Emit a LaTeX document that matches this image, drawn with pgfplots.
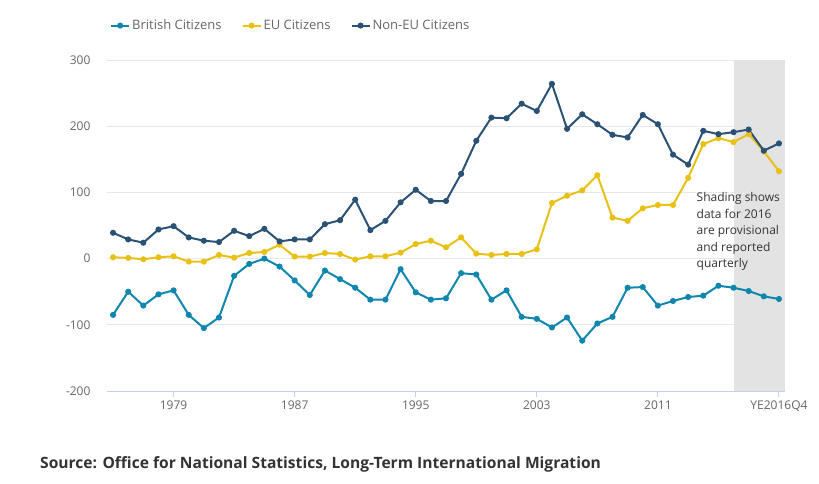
\documentclass[border=0pt]{standalone}
\usepackage{fontspec}
\setmainfont{Open Sans}
\usepackage{pgfplots}
\pgfplotsset{compat=1.18}
\definecolor{brit}{HTML}{0F86AE}
\definecolor{eu}{HTML}{E9C114}
\definecolor{noneu}{HTML}{2A5275}
\definecolor{txtgrey}{HTML}{666666}
\definecolor{xline}{HTML}{C5D2E6}
\definecolor{shadegrey}{HTML}{E3E3E3}
\begin{document}
\begin{tikzpicture}
\path[use as bounding box] (0pt,0pt) rectangle (819pt,483pt);
\begin{axis}[
  at={(107pt,92pt)}, anchor=south west,
  scale only axis, width=678pt, height=331pt,
  xmin=-0.4, xmax=44.4, ymin=-200, ymax=300,
  axis x line*=bottom, axis y line*=left,
  x axis line style={draw=xline, line width=1pt},
  y axis line style={draw=none},
  xtick={4,12,20,28,36,44},
  xticklabels={1979,1987,1995,2003,2011,YE2016Q4},
  ytick={-200,-100,0,100,200,300},
  yticklabels={-200,-100,0,100,200,300},
  tick align=outside, major tick length=6pt,
  xtick style={draw=xline, line width=1pt},
  ytick style={draw=none},
  yticklabel style={xshift=-7pt},
  ticklabel style={font=\fontsize{12}{14}\selectfont, text=txtgrey},
  ymajorgrids, grid style={draw=gray!18, line width=1pt},
  legend style={at={(0,1.104)}, anchor=west, draw=none, fill=none,
    font=\fontsize{13}{15}\selectfont, text=txtgrey,
    /tikz/every even column/.append style={column sep=18pt}},
  legend columns=3,
  legend image code/.code={\draw[mark repeat=2,mark phase=2,#1] plot coordinates {(0pt,0pt) (9pt,0pt) (18pt,0pt)};},
  every axis plot/.append style={line width=2pt, mark=*, mark size=2pt},
]
\fill[shadegrey] (axis cs:41,-200) rectangle (axis cs:44.4,300);
\addplot[brit, mark options={fill=brit, draw=brit}] coordinates {
(0,-85) (1,-50) (2,-71) (3,-54) (4,-48) (5,-85) (6,-105) (7,-89) (8,-26) (9,-8)
(10,0) (11,-12) (12,-33) (13,-55) (14,-18) (15,-31) (16,-44) (17,-62) (18,-62) (19,-16)
(20,-51) (21,-62) (22,-60) (23,-22) (24,-24) (25,-62) (26,-48) (27,-88) (28,-91) (29,-104)
(30,-89) (31,-124) (32,-98) (33,-88) (34,-44) (35,-43) (36,-71) (37,-64) (38,-58) (39,-56)
(40,-41) (41,-44) (42,-49) (43,-57) (44,-61)};
\addlegendentry{British Citizens}
\addplot[eu, mark options={fill=eu, draw=eu}] coordinates {
(0,2) (1,1) (2,-1) (3,2) (4,3.5) (5,-4.5) (6,-4.5) (7,5.5) (8,1.5) (9,8.5)
(10,10) (11,21) (12,3) (13,3) (14,8.5) (15,7) (16,-1.5) (17,3.5) (18,3.5) (19,9)
(20,22) (21,27) (22,17) (23,32) (24,7.5) (25,5.5) (26,7) (27,7) (28,14) (29,84)
(30,95) (31,103) (32,126) (33,62) (34,57) (35,76) (36,81) (37,81) (38,122) (39,173)
(40,182) (41,176) (42,188) (43,162) (44,132)};
\addlegendentry{EU Citizens}
\addplot[noneu, mark options={fill=noneu, draw=noneu}] coordinates {
(0,39) (1,29) (2,24) (3,44) (4,49) (5,32) (6,27) (7,25) (8,42) (9,34)
(10,45) (11,26) (12,29) (13,29) (14,52) (15,58) (16,89) (17,43) (18,57) (19,85)
(20,104) (21,87) (22,87) (23,128) (24,178) (25,213) (26,212) (27,234) (28,223) (29,264)
(30,196) (31,218) (32,203) (33,187) (34,183) (35,217) (36,203) (37,157) (38,142) (39,193)
(40,188) (41,191) (42,195) (43,163) (44,174)};
\addlegendentry{Non-EU Citizens}
\node[anchor=base west, inner sep=0pt, font=\fontsize{13}{15}\selectfont, text=txtgrey] at (rel axis cs:0,1) [yshift=4pt] {Thousands};
\node[anchor=north west, inner sep=0pt, align=left, font=\fontsize{12}{16.5}\selectfont, text=black!80] at (axis cs:38.55,100) {Shading shows\\data for 2016\\are provisional\\and reported\\quarterly};
\end{axis}
\node[anchor=base west, inner sep=0pt, font=\fontsize{15.6}{18}\selectfont\bfseries, text=black!80] at (40pt,15pt) {Source: Office for National Statistics, Long-Term International Migration};
\end{tikzpicture}
\end{document}
